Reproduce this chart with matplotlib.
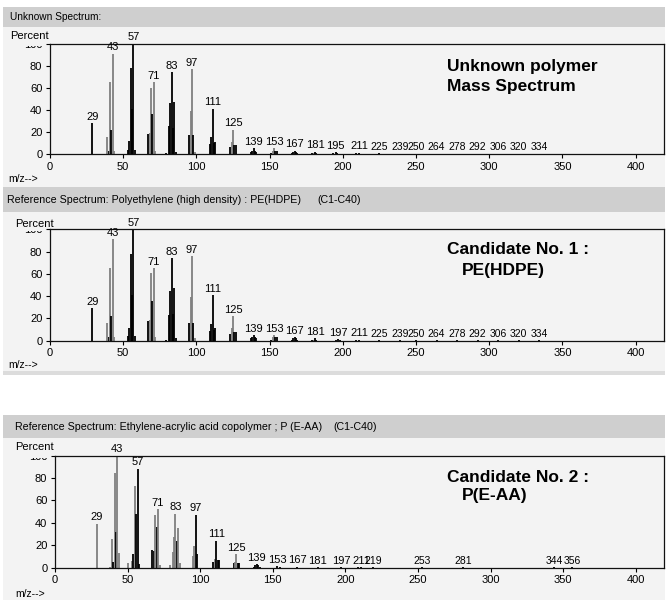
import matplotlib
matplotlib.use("Agg")
import matplotlib.pyplot as plt
from matplotlib.patches import Rectangle

plt.rcParams['font.family'] = ['Liberation Sans', 'DejaVu Sans']

# ---------------- data ----------------
# Panel 1: unknown spectrum
unk_mz = [29, 39, 40, 41, 42, 43, 44, 53, 54, 55, 56, 57, 58, 67, 68, 69, 70, 71, 72,
          79, 81, 82, 83, 84, 85, 86, 95, 96, 97, 98, 99, 109, 110, 111, 112, 113,
          123, 124, 125, 126, 127, 137, 138, 139, 140, 141, 151, 152, 153, 154, 155,
          165, 166, 167, 168, 169, 179, 180, 181, 182, 193, 195, 196, 209, 211,
          225, 239, 250, 264, 278, 292, 306, 320, 334]
unk_int = [28, 15, 3, 65, 22, 91, 3, 4, 12, 78, 41, 100, 4, 18, 19, 60, 36, 65, 3,
           1, 25, 46, 74, 24, 47, 2, 17, 39, 77, 17, 2, 9, 15, 41, 10, 11,
           6, 11, 22, 8, 8, 2, 3, 5, 3, 2, 1, 3, 5, 3, 3,
           1, 2, 3, 2, 1, 1, 1, 2, 1, 1, 1.5, 1, 1, 1,
           0.5, 0.4, 0.4, 0.3, 0.3, 0.3, 0.3, 0.3, 0.3]
unk_col = ['k', 'g', 'k', 'g', 'k', 'g', 'g', 'k', 'k', 'k', 'k', 'k', 'k', 'k', 'g', 'g', 'k', 'g', 'g',
           'k', 'k', 'k', 'k', 'k', 'k', 'k', 'k', 'g', 'g', 'k', 'g', 'k', 'k', 'k', 'k', 'k',
           'k', 'g', 'g', 'k', 'k', 'k', 'k', 'k', 'k', 'k', 'k', 'g', 'g', 'k', 'k',
           'k', 'k', 'k', 'k', 'k', 'k', 'g', 'k', 'k', 'k', 'k', 'k', 'k', 'k',
           'k', 'k', 'k', 'k', 'k', 'k', 'k', 'k', 'k']
unk_labels = [29, 43, 57, 71, 83, 97, 111, 125, 139, 153, 167, 181, 195, 211,
              225, 239, 250, 264, 278, 292, 306, 320, 334]

# Panel 2: PE(HDPE) reference
hdpe_mz = [29, 39, 40, 41, 42, 43, 44, 53, 54, 55, 56, 57, 58, 67, 68, 69, 70, 71, 72,
           79, 81, 82, 83, 84, 85, 86, 95, 96, 97, 98, 99, 109, 110, 111, 112, 113,
           123, 124, 125, 126, 127, 137, 138, 139, 140, 141, 151, 152, 153, 154, 155,
           165, 166, 167, 168, 169, 179, 180, 181, 182, 195, 197, 198, 209, 211,
           225, 239, 250, 264, 278, 292, 306, 320, 334]
hdpe_int = [29, 16, 3, 65, 22, 91, 3, 4, 11, 78, 41, 100, 4, 18, 19, 61, 36, 65, 3,
            1, 23, 45, 74, 24, 47, 2, 16, 39, 76, 16, 2, 9, 15, 41, 10, 11,
            6, 11, 22, 8, 8, 2, 3, 5, 3, 2, 1, 3, 5, 3, 3,
            1, 2, 3, 2, 1, 1, 1, 2, 1, 1, 1.5, 1, 1, 1,
            0.5, 0.4, 0.4, 0.3, 0.3, 0.3, 0.3, 0.3, 0.3]
hdpe_col = unk_col
hdpe_labels = [29, 43, 57, 71, 83, 97, 111, 125, 139, 153, 167, 181, 197, 211,
               225, 239, 250, 264, 278, 292, 306, 320, 334]

# Panel 3: P(E-AA) reference
eaa_mz = [29, 38, 39, 40, 41, 42, 43, 44, 50, 53, 54, 55, 56, 57, 58, 67, 68, 69, 70, 71, 72,
          79, 81, 82, 83, 84, 85, 86, 95, 96, 97, 98, 109, 110, 111, 112, 113,
          123, 124, 125, 126, 127, 137, 138, 139, 140, 141, 153, 155, 167, 181,
          197, 209, 211, 219, 253, 281, 344, 356]
eaa_int = [39, 1, 26, 5, 84, 32, 100, 13, 4, 6, 12, 73, 48, 88, 3, 16, 15, 47, 36, 52, 2,
           2, 14, 27, 48, 24, 35, 4, 10, 19, 47, 12, 5, 8, 24, 7, 7,
           4, 5, 12, 4, 4, 1, 2, 3, 2, 1, 1.5, 1, 0.8, 0.5,
           0.3, 0.8, 0.3, 0.3, 0.3, 0.3, 0.3, 0.3]
eaa_col = ['g', 'g', 'g', 'k', 'g', 'k', 'g', 'g', 'g', 'g', 'k', 'g', 'k', 'k', 'k', 'k', 'k', 'g', 'k', 'g', 'g',
           'g', 'g', 'g', 'g', 'k', 'g', 'g', 'g', 'g', 'k', 'k', 'k', 'g', 'k', 'k', 'k',
           'k', 'g', 'g', 'k', 'k', 'k', 'k', 'k', 'k', 'k', 'k', 'k', 'k', 'k',
           'k', 'k', 'k', 'k', 'k', 'k', 'k', 'k']
eaa_labels = [29, 43, 57, 71, 83, 97, 111, 125, 139, 153, 167, 181, 197, 211, 219,
              253, 281, 344, 356]

xticks = [0, 50, 100, 150, 200, 250, 300, 350, 400]
yticks = [0, 20, 40, 60, 80, 100]

titles = ["Unknown Spectrum:",
          "Reference Spectrum: Polyethylene (high density) : PE(HDPE)",
          "Reference Spectrum: Ethylene-acrylic acid copolymer ; P (E-AA)"]
title_suffix = [None, "(C1-C40)", "(C1-C40)"]
notes = [["Unknown polymer", "Mass Spectrum"],
         ["Candidate No. 1 :", "PE(HDPE)"],
         ["Candidate No. 2 :", "P(E-AA)"]]

# ---------------- layout (pixels) ----------------
W, H = 667, 600
fig = plt.figure(figsize=(W / 100, H / 100), dpi=100)
fig.patch.set_facecolor('white')

BAR = '#cfcfcf'
BODY = '#f3f3f3'
COLMAP = {'k': '#000000', 'g': '#7f7f7f'}


def fx(x):
    return x / W


def fy(y):
    return 1 - y / H


def rect(x0, y0, x1, y1, color, z=-10):
    fig.add_artist(Rectangle((fx(x0), fy(y1)), (x1 - x0) / W, (y1 - y0) / H,
                             transform=fig.transFigure, facecolor=color,
                             edgecolor='none', zorder=z))


def ftext(x, y, s, **kw):
    fig.text(fx(x), fy(y), s, **kw)


panels = [
    dict(bar=(3, 7, 665, 27), body=(3, 27, 665, 187), title=(10, 17), tsize=7.3, suffix=None,
         ax=(50, 664, 43.6, 154), pct=(10, 36), mz=(8, 179),
         note=(447, 71, 447, 90.5), data=(unk_mz, unk_int, unk_col, unk_labels)),
    dict(bar=(3, 187, 665, 212), body=(3, 212, 665, 371), title=(7, 200), tsize=7.7, suffix=317,
         ax=(50, 664, 229.4, 340.7), pct=(15, 223.5), mz=(8, 365),
         note=(447, 254, 462, 275), data=(hdpe_mz, hdpe_int, hdpe_col, hdpe_labels)),
    dict(bar=(3, 415, 665, 438), body=(3, 438, 665, 600), title=(15, 427), tsize=7.7, suffix=333,
         ax=(55, 664, 455.5, 567.7), pct=(15, 447.5), mz=(15, 594),
         note=(447, 482, 462, 500), data=(eaa_mz, eaa_int, eaa_col, eaa_labels)),
]

for i, p in enumerate(panels):
    bx0, by0, bx1, by1 = p['bar']
    rect(bx0, by0, bx1, by1, BAR)
    b = p['body']
    rect(b[0], b[1], b[2], b[3], BODY)
    ftext(p['title'][0], p['title'][1], titles[i], fontsize=p['tsize'], va='center', ha='left')
    if p['suffix'] is not None:
        ftext(p['suffix'], p['title'][1], title_suffix[i], fontsize=p['tsize'],
              va='center', ha='left')

    l, r, t, bt = p['ax']
    ax = fig.add_axes([fx(l), fy(bt), (r - l) / W, (bt - t) / H])
    ax.patch.set_visible(False)
    scale = (635.7 - l) / 400.0
    ax.set_xlim(0, (r - l) / scale)
    ax.set_ylim(0, 100)
    mz, inten, cols, labels = p['data']
    ax.vlines(mz, 0, inten, colors=[COLMAP[c] for c in cols], lw=1.3)
    lookup = dict(zip(mz, inten))
    for m in labels:
        ax.annotate(str(m), (m, lookup.get(m, 0)), xytext=(0, 2.5),
                    textcoords='offset points', ha='center', va='baseline',
                    fontsize=8 if m < 215 else 7.5, annotation_clip=False)
    ax.set_xticks(xticks)
    ax.set_yticks(yticks)
    ax.tick_params(direction='out', length=3, width=0.8, labelsize=8, pad=2.5,
                   top=False, right=False)
    for s in ax.spines.values():
        s.set_linewidth(0.9)
        s.set_color('#111111')

    # the "100" label is mostly hidden behind the Percent caption area
    rect(18, t - 16, l - 5, t + 2, BODY, z=5)
    ftext(p['pct'][0], p['pct'][1], "Percent", fontsize=8, va='center', ha='left', zorder=6)
    ftext(p['mz'][0], p['mz'][1], "m/z-->", fontsize=7.5, va='center', ha='left')

    nx1, ny1, nx2, ny2 = p['note']
    ftext(nx1, ny1, notes[i][0], fontsize=12.5, fontweight='bold', va='baseline', ha='left')
    ftext(nx2, ny2, notes[i][1], fontsize=12.5, fontweight='bold', va='baseline', ha='left')

# bottom band of panel 2
rect(3, 371, 665, 375, '#dcdcdc')

fig.savefig('out.png', dpi=100, facecolor='white')
